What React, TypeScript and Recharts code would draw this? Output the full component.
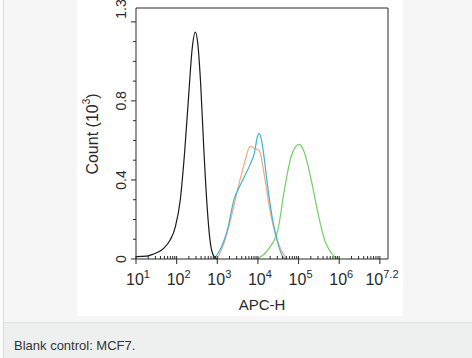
import { LineChart, Line, XAxis, YAxis, ReferenceLine } from "recharts";

// log10(APC-H) vs count (10^3)
const blackX = [1.0, 1.26, 1.43, 1.55, 1.68, 1.84, 1.97, 2.09, 2.2, 2.3, 2.38, 2.46, 2.52, 2.59, 2.67, 2.75, 2.83, 2.92, 3.0];
const blackY = [0.012, 0.015, 0.025, 0.035, 0.054, 0.096, 0.164, 0.3, 0.55, 0.84, 1.06, 1.148, 1.09, 0.89, 0.55, 0.265, 0.08, 0.012, 0];

const blueX = [2.92, 3.1, 3.25, 3.41, 3.58, 3.79, 3.91, 3.99, 4.03, 4.09, 4.16, 4.24, 4.36, 4.49, 4.61, 4.69];
const blueY = [0, 0.06, 0.147, 0.3, 0.38, 0.47, 0.535, 0.62, 0.636, 0.6, 0.5, 0.366, 0.2, 0.08, 0.012, 0];

const orangeX = [3.0, 3.15, 3.33, 3.5, 3.66, 3.81, 3.91, 4.03, 4.16, 4.28, 4.4, 4.57, 4.72];
const orangeY = [0, 0.07, 0.2, 0.35, 0.48, 0.57, 0.56, 0.55, 0.42, 0.265, 0.147, 0.045, 0];

const greenX = [3.99, 4.24, 4.49, 4.65, 4.82, 5.01, 5.15, 5.31, 5.48, 5.64, 5.81, 5.98];
const greenY = [0, 0.045, 0.147, 0.35, 0.52, 0.58, 0.535, 0.4, 0.23, 0.096, 0.029, 0];

const xMajor = [1, 2, 3, 4, 5, 6, 7];
const xLabeled = [1, 2, 3, 4, 5, 6, 7.2];
const yLabels = ["0", "0.4", "0.8", "1.3"];

const toRows = (xs: number[], ys: number[]) => xs.map((x, i) => ({ x, y: ys[i] }));

const xMinor: number[] = [];
for (let d = 1; d < 7; d++) {
    for (let m = 2; m < 10; m++) xMinor.push(d + Math.log10(m));
}
const xTicks = [...xMajor, ...xMinor, 7.2];
const yTicks = [0, 0.1, 0.2, 0.3, 0.4, 0.5, 0.6, 0.7, 0.8, 0.9, 1.0, 1.1, 1.2, 1.27];

const FONT = "'Liberation Sans', Arial, sans-serif";
const INK = "#2a2a2a";

const near = (a: number, b: number) => Math.abs(a - b) < 1e-6;

const XTick = (props: any) => {
    const { x, y, payload } = props;
    const v = payload.value;
    const major = xMajor.some((m) => near(m, v));
    const labeled = xLabeled.some((m) => near(m, v));
    const isEnd = near(v, 7.2);
    return (
        <g>
            {major && <line x1={x} x2={x} y1={y - 3} y2={y + 5} stroke={INK} strokeWidth={1} />}
            {!major && !isEnd && <line x1={x} x2={x} y1={y - 3} y2={y} stroke={INK} strokeWidth={1} />}
            {labeled && (
                <text x={x - (isEnd ? 6 : -2)} y={y + 26} textAnchor="middle" fontFamily={FONT} fill={INK} fontSize={16}>
                    10<tspan dy={-7} fontSize={11}>{isEnd ? "7.2" : String(v)}</tspan>
                </text>
            )}
        </g>
    );
};

const YTick = (props: any) => {
    const { x, y, payload } = props;
    const v = payload.value;
    const idx = [0, 0.4, 0.8, 1.27].findIndex((t) => near(t, v));
    const major = idx >= 0 || near(v, 1.2);
    const ly = near(v, 1.27) ? y + 1 : y;
    return (
        <g>
            {v < 1.25 && <line x1={x - (major ? 5 : 3)} x2={x} y1={y} y2={y} stroke={INK} strokeWidth={1} />}
            {idx >= 0 && (
                <text
                    x={x - 15}
                    y={ly}
                    transform={`rotate(-90 ${x - 15} ${ly})`}
                    textAnchor="middle"
                    dominantBaseline="central"
                    fontFamily={FONT}
                    fill={INK}
                    fontSize={14}
                >
                    {yLabels[idx]}
                </text>
            )}
        </g>
    );
};

export default function App() {
    return (
        <div style={{ position: "absolute", left: 0, top: 0, width: 472, height: 358, background: "#f6f6f6", overflow: "hidden" }}>
            <div style={{ position: "absolute", left: 0, top: 0, width: 3, height: 358, background: "#fbfbfb", borderRight: "1px solid #dcdcdc" }} />
            <div style={{ position: "absolute", left: 77, top: 0, width: 326, height: 316, background: "#ffffff" }}>
                <LineChart width={326} height={316} margin={{ top: 8, right: 15, left: 0, bottom: 0 }}>
                    <XAxis
                        type="number"
                        dataKey="x"
                        domain={[1, 7.2]}
                        ticks={xTicks}
                        interval={0}
                        tick={<XTick />}
                        tickLine={false}
                        tickSize={0}
                        tickMargin={0}
                        height={57}
                        axisLine={{ stroke: INK }}
                        allowDuplicatedCategory={false}
                    />
                    <YAxis
                        type="number"
                        domain={[0, 1.27]}
                        ticks={yTicks}
                        interval={0}
                        tick={<YTick />}
                        tickLine={false}
                        tickSize={0}
                        tickMargin={0}
                        width={59}
                        axisLine={{ stroke: INK }}
                    />
                    <ReferenceLine y={1.27} stroke={INK} strokeWidth={1} />
                    <ReferenceLine x={7.2} stroke={INK} strokeWidth={1} />
                    <Line data={toRows(greenX, greenY)} dataKey="y" type="monotone" stroke="#72d062" strokeWidth={1.2} dot={false} isAnimationActive={false} />
                    <Line data={toRows(orangeX, orangeY)} dataKey="y" type="monotone" stroke="#f2aa7a" strokeWidth={1.2} dot={false} isAnimationActive={false} />
                    <Line data={toRows(blueX, blueY)} dataKey="y" type="monotone" stroke="#3db5d6" strokeWidth={1.2} dot={false} isAnimationActive={false} />
                    <Line data={toRows(blackX, blackY)} dataKey="y" type="monotone" stroke="#1a1a1a" strokeWidth={1.2} dot={false} isAnimationActive={false} />
                    <text x={185} y={304} textAnchor="middle" dominantBaseline="central" fontFamily={FONT} fontSize={15} fill={INK}>
                        APC-H
                    </text>
                    <text
                        x={15}
                        y={134}
                        transform={`rotate(-90 15 134)`}
                        textAnchor="middle"
                        dominantBaseline="central"
                        fontFamily={FONT}
                        fontSize={16}
                        fill={INK}
                    >
                        Count (10<tspan dy={-6} fontSize={10}>3</tspan>
                        <tspan dy={6}>)</tspan>
                    </text>
                </LineChart>
            </div>
            <div
                style={{
                    position: "absolute",
                    left: 4,
                    top: 322,
                    width: 468,
                    height: 36,
                    background: "#eef0ef",
                    borderTop: "1px solid #dedede",
                }}
            >
                <div style={{ position: "absolute", left: 10, top: 15, fontFamily: FONT, fontSize: 13, color: "#333" }}>
                    Blank control: MCF7.
                </div>
            </div>
        </div>
    );
}
